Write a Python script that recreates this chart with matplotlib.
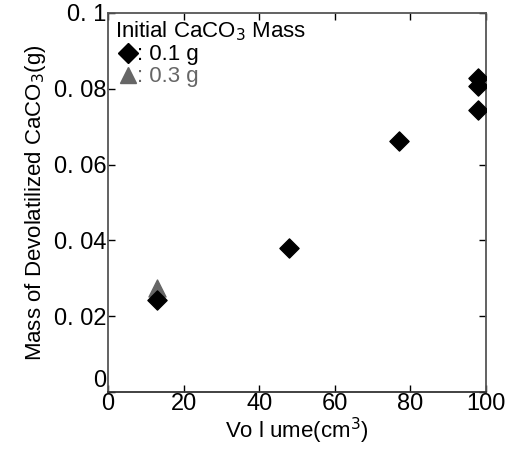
import matplotlib
matplotlib.use("Agg")
import matplotlib.pyplot as plt
from matplotlib.lines import Line2D

# Data
vol_01 = [13, 48, 77, 98, 98, 98]
mass_01 = [0.0243, 0.0381, 0.0661, 0.0829, 0.0808, 0.0743]
vol_03 = [13]
mass_03 = [0.0274]

xticks = [0, 20, 40, 60, 80, 100]
yticks = [0, 0.02, 0.04, 0.06, 0.08, 0.1]
ytick_labels = ['0', '0. 02', '0. 04', '0. 06', '0. 08', '0. 1']

GRAY = '#666666'
FONT = 'Liberation Sans'

fig = plt.figure(figsize=(5.07, 4.54), dpi=100)
ax = fig.add_axes([0.213, 0.1366, 0.7456, 0.8348])

ax.scatter(vol_01, mass_01, marker='D', s=95, color='black', zorder=3)
ax.scatter(vol_03, mass_03, marker='^', s=150, color=GRAY, zorder=2)

ax.set_xlim(0, 100)
ax.set_ylim(0, 0.1)
ax.set_xticks(xticks)
ax.set_xticklabels([str(t) for t in xticks], family=FONT, fontsize=17)
ax.set_yticks(yticks)
ax.set_yticklabels(ytick_labels, family=FONT, fontsize=17)
ax.tick_params(direction='in', length=5, width=1, top=True, right=True, pad=1)
ax.get_yticklabels()[0].set_va('bottom')

for side, sp in ax.spines.items():
    sp.set_color('#555555')
    sp.set_linewidth(1.3)
ax.spines['bottom'].set_color('#333333')

ax.set_xlabel('Vo l ume(cm$^3$)', family=FONT, fontsize=16, labelpad=0)
ax.set_ylabel('Mass of Devolatilized CaCO$_3$(g)', family=FONT,
              fontsize=16, labelpad=4)

handles = [
    Line2D([], [], marker='D', color='black', ls='none', markersize=10),
    Line2D([], [], marker='^', color=GRAY, ls='none', markersize=12),
]
leg = ax.legend(handles, [': 0.1 g', ': 0.3 g'], title='Initial CaCO$_3$ Mass',
                loc='upper left', frameon=False, handletextpad=-0.2,
                handlelength=1.2, borderaxespad=0.2, borderpad=0.1,
                labelspacing=0.05, prop={'family': FONT, 'size': 16},
                title_fontproperties={'family': FONT, 'size': 16})
leg._legend_box.align = 'left'
leg.get_texts()[1].set_color(GRAY)

fig.savefig('out.png', dpi=100)
